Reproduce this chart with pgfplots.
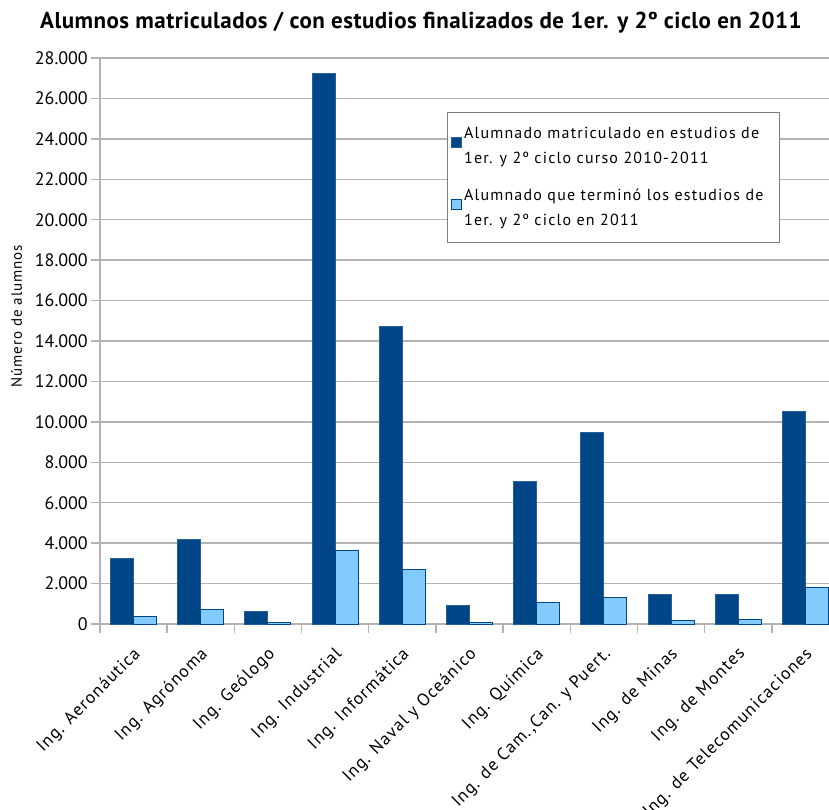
\documentclass[border=0pt]{standalone}
\usepackage{pgfplots}
\pgfplotsset{compat=1.18}
\usepackage{fontspec}
\setmainfont{PT Sans}
\definecolor{darkb}{HTML}{004586}
\definecolor{lightb}{HTML}{83CAFF}
\definecolor{gridg}{HTML}{B3B3B3}
\begin{document}
\begin{tikzpicture}
\begin{axis}[
  at={(100pt,185pt)}, anchor=south west, scale only axis,
  width=739pt, height=566pt,
  ybar=0pt, bar width=23pt,
  xmin=-0.5, xmax=10.5, ymin=0, ymax=28000,
  ytick distance=2000,
  scaled y ticks=false,
  /pgf/number format/.cd, 1000 sep={.}, assume math mode=true,
  /pgfplots/.cd,
  axis x line*=bottom, axis y line*=left,
  axis line style={gridg, line width=1.5pt},
  tick align=outside,
  major tick length=9pt,
  minor tick length=9pt,
  tick style={gridg, line width=1.5pt},
  major x tick style={draw=none},
  xtick={0,...,10},
  minor xtick={-0.5,0.5,...,10.5},
  xticklabels={Ing. Aeronáutica, Ing. Agrónoma, Ing. Geólogo, Ing. Industrial, Ing. Informática, Ing. Naval y Oceánico, Ing. Química, {Ing. de Cam.,Can. y Puert.}, Ing. de Minas, Ing. de Montes, Ing. de Telecomunicaciones},
  xticklabel style={rotate=45, anchor=north east, font=\fontsize{17.5}{21}\selectfont\addfontfeatures{LetterSpace=6}, inner sep=2pt, yshift=-6pt, xshift=-8pt},
  yticklabel style={font=\fontsize{18}{21}\selectfont, inner sep=3pt},
  ymajorgrids, major grid style={gridg, line width=1.3pt},
  ylabel={Número de alumnos},
  ylabel style={at={(axis description cs:-0.113,0.544)}, anchor=center, font=\fontsize{15}{18}\selectfont\addfontfeatures{LetterSpace=6}},
  legend image code/.code={\draw[#1] (0pt,-1pt) rectangle (10pt,9pt);},
  legend cell align=left,
  legend style={at={(0.469,0.9046)}, anchor=north west, draw=gridg!70!black, line width=1pt,
    font=\fontsize{16}{25}\selectfont\addfontfeatures{LetterSpace=7.5}, cells={align=left}, inner xsep=4pt, inner ysep=13pt, row sep=20pt},
]
\addplot[fill=darkb, draw=darkb!85!white, line width=1pt] coordinates {(0,3230) (1,4205) (2,643) (3,27210) (4,14693) (5,925) (6,7074) (7,9449) (8,1435) (9,1484) (10,10537)};
\addplot[fill=lightb, draw=darkb, line width=1pt] coordinates {(0,361) (1,708) (2,84) (3,3627) (4,2705) (5,50) (6,1073) (7,1320) (8,198) (9,247) (10,1815)};
\legend{{Alumnado matriculado en estudios de\rule{14pt}{0pt}\\1er. y 2º ciclo curso 2010-2011}, {Alumnado que terminó los estudios de\\1er. y 2º ciclo en 2011}}
\end{axis}
\node[font=\fontsize{23}{26}\bfseries\selectfont\addfontfeatures{LetterSpace=2}] at (421pt,786pt) {Alumnos matriculados / con estudios finalizados de 1er. y 2º ciclo en 2011};
\pgfresetboundingbox
\useasboundingbox (0pt,0pt) rectangle (829pt,809pt);
\end{tikzpicture}
\end{document}
